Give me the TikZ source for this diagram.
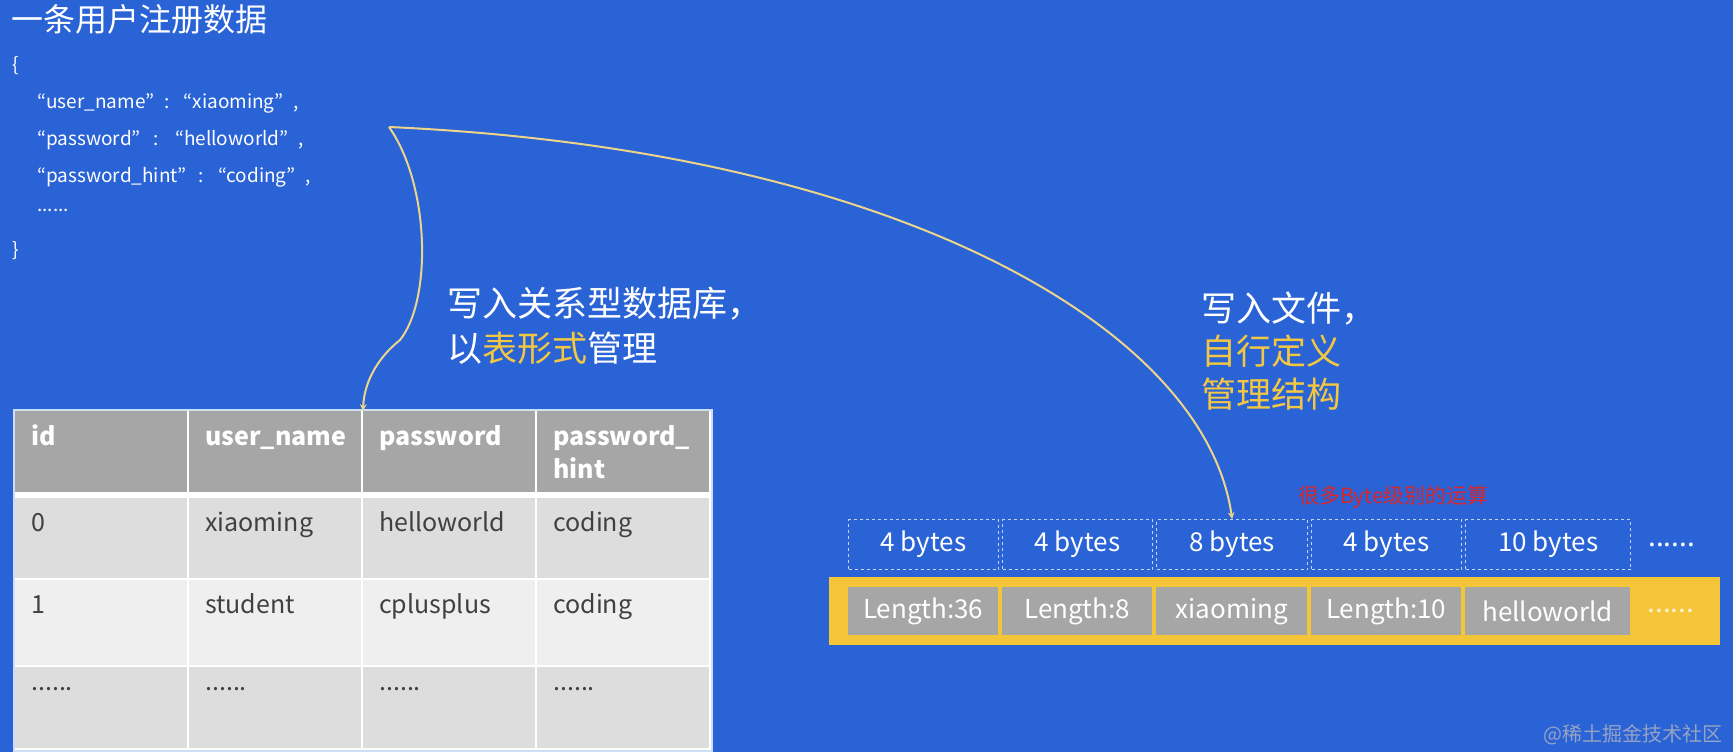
\documentclass[tikz,border=0pt]{standalone}
\usepackage{fontspec}
\setmainfont{Noto Sans CJK SC}
\newfontfamily\jsonfont{Noto Sans CJK JP}
\usetikzlibrary{positioning}

\definecolor{bgblue}{RGB}{42,99,214}
\definecolor{flowyellow}{RGB}{236,212,138}
\definecolor{accent}{RGB}{244,199,66}
\definecolor{headgray}{RGB}{166,166,166}
\definecolor{rowdark}{RGB}{221,221,221}
\definecolor{rowlight}{RGB}{239,239,239}
\definecolor{celltext}{RGB}{64,64,64}
\definecolor{tableedge}{RGB}{205,222,247}
\definecolor{baryellow}{RGB}{244,197,56}
\definecolor{dashblue}{RGB}{196,213,242}
\definecolor{notered}{RGB}{214,38,44}
\definecolor{markgray}{RGB}{150,163,196}

\newcommand{\mdots}{\raisebox{.4em}{......}}

\begin{document}
\begin{tikzpicture}[
    x=1pt, y=-1pt,
    title/.style={
        anchor=west,
        inner sep=0,
        text=white,
        font=\fontsize{32}{38}\selectfont
    },
    json/.style={
        anchor=base west,
        inner sep=0,
        text=white,
        font=\jsonfont\fontsize{19}{23}\selectfont
    },
    note/.style={
        anchor=north west,
        inner sep=0,
        text=white,
        align=left,
        font=\fontsize{35}{45}\selectfont
    },
    hcell/.style={
        anchor=north west,
        fill=headgray,
        minimum width=172,
        minimum height=81,
        inner sep=0
    },
    bcell/.style={
        anchor=north west,
        minimum width=172,
        inner sep=0
    },
    htext/.style={
        anchor=base west,
        inner sep=0,
        text=white,
        font=\fontsize{25}{33}\selectfont\bfseries
    },
    btext/.style={
        anchor=base west,
        inner sep=0,
        text=celltext,
        font=\fontsize{25}{33}\selectfont
    },
    bytebox/.style={
        anchor=north west,
        draw=dashblue,
        dashed,
        line width=1.2,
        minimum height=50,
        inner sep=0,
        text=white,
        font=\fontsize{26}{30}\selectfont
    },
    fieldbox/.style={
        anchor=north west,
        fill=headgray,
        minimum height=48,
        inner sep=0,
        text=white,
        font=\fontsize{26}{30}\selectfont
    },
    dots/.style={
        inner sep=0,
        font=\fontsize{28}{30}\selectfont
    },
    flow/.style={
        ->, >=stealth,
        draw=flowyellow,
        line width=2
    }
]

    % ==========================================
    % BACKGROUND
    % ==========================================
    \useasboundingbox (0,0) rectangle (1733,752);
    \fill[bgblue] (0,0) rectangle (1733,752);

    % ==========================================
    % RECORD (Top Left)
    % ==========================================
    \node[title] (Title) at (11,19) {一条用户注册数据};

    \foreach \x/\txt [count=\i from 0] in {
        12/\{,
        37/{“user\_name”\hspace{10pt}:\hspace{14pt}“xiaoming”\hspace{10pt},},
        37/{“password”\hspace{13pt}:\hspace{16pt}“helloworld”\hspace{10pt},},
        37/{“password\_hint”\hspace{12pt}:\hspace{14pt}“coding”\hspace{10pt},},
        37/{\mdots},
        12/\}}
        \node[json] (J\i) at (\x, {71+37*\i}) {\txt};

    % Labels
    \node[note] (DbNote) at (447,287) {写入关系型数据库，\\以\textcolor{accent}{表形式}管理};
    \node[note, font=\fontsize{35}{43}\selectfont] (FileNote) at (1201,292)
        {写入文件，\\\textcolor{accent}{自行定义}\\\textcolor{accent}{管理结构}};
    \node[anchor=west, inner sep=0, text=notered, font=\fontsize{21}{24}\selectfont] (ByteNote) at (1298,497) {很多Byte级别的运算};

    % ==========================================
    % TABLE (Bottom Left)
    % ==========================================
    \node[anchor=north west, fill=white, draw=tableedge, line width=1.5,
          minimum width=698, minimum height=341, inner sep=0] (Tbl) at (13,409) {};

    \foreach \txt [count=\i] in {id, user\_name, password, {\vtop{\hbox{password\_}\hbox{hint}}}} {
        \node[hcell] (H\i) at ({15+174*(\i-1)}, 411) {};
        \node[htext] at ([shift={(16,34)}]H\i.north west) {\txt};
    }

    \foreach \r/\top/\h/\shade/\cells in {
        1/498/80/rowdark/{0,xiaoming,helloworld,coding},
        2/580/85/rowlight/{1,student,cplusplus,coding},
        3/667/81/rowdark/{\mdots,\mdots,\mdots,\mdots}} {
        \foreach \txt [count=\c] in \cells {
            \node[bcell, fill=\shade, minimum height=\h] (R\r-\c) at ({15+174*(\c-1)}, \top) {};
            \node[btext] at ([shift={(16,33)}]R\r-\c.north west) {\txt};
        }
    }

    % ==========================================
    % FILE LAYOUT (Bottom Right)
    % ==========================================
    \node[anchor=north west, fill=baryellow, minimum width=891, minimum height=68, inner sep=0] (Bar) at (829,577) {};

    \foreach \x/\w/\size/\val [count=\i] in {
        848/150/4 bytes/Length:36,
        1002/150/4 bytes/Length:8,
        1156/151/8 bytes/xiaoming,
        1311/150/4 bytes/Length:10,
        1465/165/10 bytes/helloworld} {
        \node[bytebox, minimum width=\w] (B\i) at (\x,519) {\size};
        \node[fieldbox, minimum width=\w] (F\i) at (\x,587) {\val};
    }

    \node[dots, text=white, right=17pt of B5] (MoreB) {......};
    \node[dots, text=white!75!baryellow, right=17pt of F5] (MoreF) {......};

    % ==========================================
    % CONNECTIONS
    % ==========================================
    \coordinate (Src) at (389,127);

    % Record -> Table
    \draw[flow] (Src) .. controls (430,185) and (432,300) .. (400,340)
        .. controls (375,360) and (364,385) .. (H3.north west);

    % Record -> File
    \draw[flow] (Src) .. controls (900,150) and (1205,330) .. (B3.north);

    % Watermark
    \node[anchor=east, inner sep=0, text=markgray, font=\fontsize{20}{24}\selectfont] (Mark) at (1723,735) {@稀土掘金技术社区};

\end{tikzpicture}
\end{document}
